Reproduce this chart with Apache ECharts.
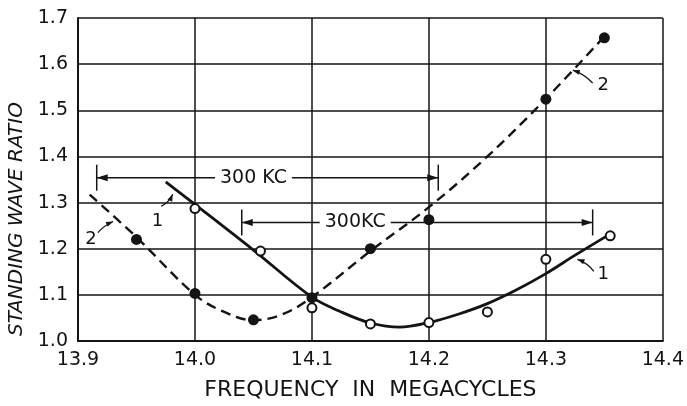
<!DOCTYPE html>
<html><head><meta charset="utf-8">
<script src="https://cdn.jsdelivr.net/npm/echarts@6/dist/echarts.min.js"></script>
<style>html,body{margin:0;background:#fff}#c{width:687px;height:406px}</style>
</head><body><div id="c"></div>
<script>
// Measured points, curve 1 (open circles)
const open1X = [14.0, 14.056, 14.1, 14.15, 14.2, 14.25, 14.3, 14.355];
const open1Y = [1.287, 1.195, 1.072, 1.037, 1.04, 1.063, 1.177, 1.228];
// Measured points, curve 2 (filled dots)
const fill2X = [13.95, 14.0, 14.05, 14.1, 14.15, 14.2, 14.3, 14.35];
const fill2Y = [1.22, 1.103, 1.046, 1.094, 1.20, 1.263, 1.524, 1.657];
// Drawn curve 1 (solid)
const curve1X = [13.975, 14.0, 14.05, 14.1, 14.125, 14.15, 14.175, 14.2, 14.225, 14.25, 14.275, 14.3, 14.325, 14.353];
const curve1Y = [1.345, 1.296, 1.197, 1.095, 1.063, 1.039, 1.03, 1.04, 1.058, 1.081, 1.111, 1.146, 1.186, 1.229];
// Drawn curve 2 (dashed)
const curve2X = [13.91, 13.95, 14.0, 14.025, 14.05, 14.075, 14.1, 14.15, 14.2, 14.25, 14.3, 14.35];
const curve2Y = [1.317, 1.225, 1.10, 1.063, 1.045, 1.058, 1.095, 1.195, 1.29, 1.40, 1.525, 1.66];
// Axis ticks
const xMin = 13.9, xMax = 14.4, xStep = 0.1;
const yMin = 1.0, yMax = 1.7, yStep = 0.1;
// Dimension annotations: [x start, x end, y, label, label x]
const dim1 = [13.916, 14.208, 1.354, '300 KC', 14.05];
const dim2 = [14.04, 14.34, 1.257, '300KC', 14.137];

const zip = (a, b) => a.map((v, i) => [v, b[i]]);
const FONT = 'DejaVu Sans';
const INK = '#141414';
const chart = echarts.init(document.getElementById('c'), null, {renderer: 'canvas'});
chart.setOption({
  backgroundColor: '#fff',
  animation: false,
  grid: {left: 78, right: 19, top: 18, bottom: 64},
  xAxis: {
    type: 'value', min: xMin, max: xMax, interval: xStep,
    name: 'FREQUENCY  IN  MEGACYCLES', nameLocation: 'middle', nameGap: 38,
    nameTextStyle: {fontFamily: FONT, fontSize: 22, color: INK},
    axisLine: {show: true, lineStyle: {color: INK, width: 2}},
    axisTick: {show: false},
    axisLabel: {formatter: v => v.toFixed(1), fontFamily: FONT, fontSize: 19, color: INK, margin: 10},
    splitLine: {show: true, lineStyle: {color: INK, width: 1.5}}
  },
  yAxis: {
    type: 'value', min: yMin, max: yMax, interval: yStep,
    axisLine: {show: true, lineStyle: {color: INK, width: 2}},
    axisTick: {show: false},
    axisLabel: {formatter: v => v.toFixed(1), fontFamily: FONT, fontSize: 19, color: INK, margin: 10},
    splitLine: {show: true, lineStyle: {color: INK, width: 1.5}}
  },
  series: [
    {type: 'line', data: zip(curve1X, curve1Y), smooth: 0.35, showSymbol: false, symbol: 'none',
     lineStyle: {color: INK, width: 2.8}, z: 3},
    {type: 'line', data: zip(curve2X, curve2Y), smooth: 0.35, showSymbol: false, symbol: 'none',
     lineStyle: {color: INK, width: 2.4, type: [10, 6]}, z: 3},
    {type: 'scatter', data: zip(open1X, open1Y), symbol: 'circle', symbolSize: 9,
     itemStyle: {color: '#fff', borderColor: INK, borderWidth: 2, opacity: 1}, z: 5},
    {type: 'scatter', data: zip(fill2X, fill2Y), symbol: 'circle', symbolSize: 11,
     itemStyle: {color: INK, opacity: 1}, z: 5}
  ]
});

function P(x, y) { return chart.convertToPixel({gridIndex: 0}, [x, y]); }
const g = [];
function head(tip, dx, dy, len, wid) {
  const L = Math.hypot(dx, dy), ux = dx / L, uy = dy / L;
  const bx = tip[0] - ux * len, by = tip[1] - uy * len;
  g.push({type: 'polygon', z: 20, shape: {points: [tip, [bx - uy * wid, by + ux * wid], [bx + uy * wid, by - ux * wid]]},
          style: {fill: INK}});
}
function dimension(d) {
  const a = P(d[0], d[2]), b = P(d[1], d[2]);
  g.push({type: 'line', z: 20, shape: {x1: a[0], y1: a[1], x2: b[0], y2: b[1]}, style: {stroke: INK, lineWidth: 1.5}});
  [a, b].forEach(p => g.push({type: 'line', z: 20, shape: {x1: p[0], y1: p[1] - 13, x2: p[0], y2: p[1] + 13},
     style: {stroke: INK, lineWidth: 1.5}}));
  head(a, -1, 0, 11, 3.5);
  head(b, 1, 0, 11, 3.5);
  const t = P(d[4], d[2]);
  g.push({type: 'text', z: 21, x: t[0], y: t[1], style: {text: d[3], fontFamily: FONT, fontSize: 19, fill: INK,
     align: 'center', verticalAlign: 'middle', backgroundColor: '#fff', padding: [0, 5]}});
}
dimension(dim1);
dimension(dim2);
function callout(label, lx, ly, sx, sy, ex, ey, bend) {
  const l = P(lx, ly), s = P(sx, sy), e = P(ex, ey);
  g.push({type: 'text', z: 21, x: l[0], y: l[1], style: {text: label, fontFamily: FONT, fontSize: 18, fill: INK,
     align: 'center', verticalAlign: 'middle'}});
  const mx = (s[0] + e[0]) / 2, my = (s[1] + e[1]) / 2;
  const dx = e[0] - s[0], dy = e[1] - s[1], L = Math.hypot(dx, dy);
  const cx = mx - dy / L * bend, cy = my + dx / L * bend;
  g.push({type: 'bezierCurve', z: 20, shape: {x1: s[0], y1: s[1], x2: e[0], y2: e[1], cpx1: cx, cpy1: cy},
     style: {stroke: INK, lineWidth: 1.3, fill: null}});
  head(e, e[0] - cx, e[1] - cy, 7, 2.6);
}
callout('1', 13.968, 1.259, 13.971, 1.292, 13.981, 1.318, 3);
callout('2', 13.911, 1.220, 13.917, 1.235, 13.930, 1.259, -2);
callout('2', 14.349, 1.555, 14.340, 1.559, 14.323, 1.587, 3);
callout('1', 14.349, 1.145, 14.341, 1.151, 14.327, 1.177, 3);
g.push({type: 'text', z: 21, x: 17, y: 219, rotation: Math.PI / 2,
  style: {text: 'STANDING WAVE RATIO', fontFamily: FONT, fontSize: 20, fontStyle: 'italic', fill: INK,
          align: 'center', verticalAlign: 'middle'}});
chart.setOption({graphic: g});
</script></body></html>
